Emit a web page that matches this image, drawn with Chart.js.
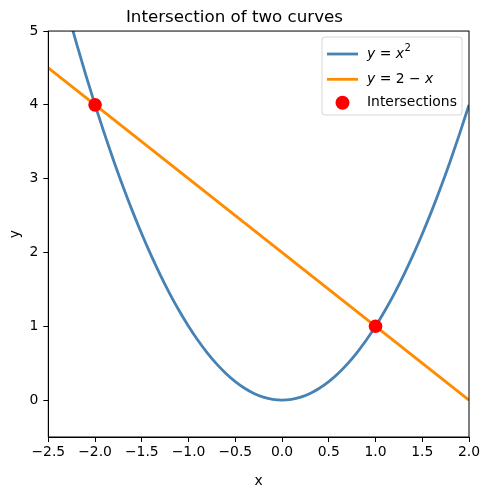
<!DOCTYPE html>
<html>
<head>
<meta charset="utf-8">
<script src="https://cdn.jsdelivr.net/npm/chart.js@4.4.1/dist/chart.umd.min.js"></script>
<style>
html,body{margin:0;padding:0;background:#fff;}
#wrap{width:490px;height:490px;position:relative;}
</style>
</head>
<body>
<div id="wrap"><canvas id="c" width="490" height="490"></canvas></div>
<script>
// ---- data ----
const curveX = [-2.5,-2.4,-2.3,-2.2,-2.1,-2.0,-1.9,-1.8,-1.7,-1.6,-1.5,-1.4,-1.3,-1.2,-1.1,-1.0,-0.9,-0.8,-0.7,-0.6,-0.5,-0.4,-0.3,-0.2,-0.1,0.0,0.1,0.2,0.3,0.4,0.5,0.6,0.7,0.8,0.9,1.0,1.1,1.2,1.3,1.4,1.5,1.6,1.7,1.8,1.9,2.0];
const curveY = [6.25,5.76,5.29,4.84,4.41,4.00,3.61,3.24,2.89,2.56,2.25,1.96,1.69,1.44,1.21,1.00,0.81,0.64,0.49,0.36,0.25,0.16,0.09,0.04,0.01,0.00,0.01,0.04,0.09,0.16,0.25,0.36,0.49,0.64,0.81,1.00,1.21,1.44,1.69,1.96,2.25,2.56,2.89,3.24,3.61,4.00];
const lineX = [-2.5, 2.0];
const lineY = [4.5, 0.0];
const interX = [-2, 1];
const interY = [4, 1];
const xTicks = [-2.5,-2.0,-1.5,-1.0,-0.5,0.0,0.5,1.0,1.5,2.0];
const xTickLabels = ["\u22122.5","\u22122.0","\u22121.5","\u22121.0","\u22120.5","0.0","0.5","1.0","1.5","2.0"];
const yTicks = [0,1,2,3,4,5];
const yTickLabels = ["0","1","2","3","4","5"];
const titleText = "Intersection of two curves";
const xTitle = "x";
const yTitle = "y";
const legendLabels = ["y = x2", "y = 2 \u2212 x", "Intersections"];

const FONT = "'DejaVu Sans', sans-serif";
const BLUE = "#4682B4", ORANGE = "#FF8C00", RED = "#FF0000";

const toPts = (xs, ys) => xs.map((x, i) => ({x: x, y: ys[i]}));

const framePlugin = {
  id: 'frame',
  afterDatasetsDraw(chart) {
    const a = chart.chartArea, ctx = chart.ctx;
    ctx.save();
    ctx.strokeStyle = '#000';
    ctx.lineWidth = 1;
    ctx.strokeRect(a.left, a.top, a.right - a.left, a.bottom - a.top);
    ctx.restore();
  }
};

const legendPlugin = {
  id: 'mplLegend',
  afterDraw(chart) {
    const ctx = chart.ctx;
    ctx.save();
    const bx = 322, by = 37, bw = 140, bh = 78, r = 3;
    ctx.beginPath();
    ctx.moveTo(bx + r, by);
    ctx.lineTo(bx + bw - r, by); ctx.arcTo(bx + bw, by, bx + bw, by + r, r);
    ctx.lineTo(bx + bw, by + bh - r); ctx.arcTo(bx + bw, by + bh, bx + bw - r, by + bh, r);
    ctx.lineTo(bx + r, by + bh); ctx.arcTo(bx, by + bh, bx, by + bh - r, r);
    ctx.lineTo(bx, by + r); ctx.arcTo(bx, by, bx + r, by, r);
    ctx.closePath();
    ctx.fillStyle = 'rgba(255,255,255,0.8)';
    ctx.fill();
    ctx.strokeStyle = 'rgba(204,204,204,0.8)';
    ctx.lineWidth = 1;
    ctx.stroke();

    const rows = [54, 79.3, 102.7];
    const lx0 = 327, lx1 = 358, tx = 367;
    ctx.lineWidth = 2.8;
    ctx.strokeStyle = BLUE;
    ctx.beginPath(); ctx.moveTo(lx0, rows[0]); ctx.lineTo(lx1, rows[0]); ctx.stroke();
    ctx.strokeStyle = ORANGE;
    ctx.beginPath(); ctx.moveTo(lx0, rows[1]); ctx.lineTo(lx1, rows[1]); ctx.stroke();
    ctx.fillStyle = RED;
    ctx.beginPath(); ctx.arc(342.5, rows[2], 7, 0, Math.PI * 2); ctx.fill();

    ctx.fillStyle = '#000';
    ctx.textBaseline = 'middle';
    ctx.textAlign = 'left';
    const fs = 13.9;
    const it = 'italic ' + fs + 'px ' + FONT;
    const rm = fs + 'px ' + FONT;
    let x = tx;
    let currentRow = 0;
    const seg = (txt, font, dy) => { ctx.font = font; ctx.fillText(txt, x, rows[currentRow] + (dy || 0)); x += ctx.measureText(txt).width; };
    seg('y', it); seg(' = ', rm); seg('x', it); x += 0.5; seg('2', (fs * 0.72) + 'px ' + FONT, -5.5);
    currentRow = 1; x = tx;
    seg('y', it); seg(' = 2 \u2212 ', rm); seg('x', it);
    currentRow = 2; x = tx;
    seg(legendLabels[2], rm);
    ctx.restore();
  }
};

new Chart(document.getElementById('c'), {
  type: 'scatter',
  data: {
    datasets: [
      { label: legendLabels[0], data: toPts(curveX, curveY), showLine: true, borderColor: BLUE, borderWidth: 2.8, pointRadius: 0, cubicInterpolationMode: 'monotone', order: 3 },
      { label: legendLabels[1], data: toPts(lineX, lineY), showLine: true, borderColor: ORANGE, borderWidth: 2.8, pointRadius: 0, order: 2 },
      { label: legendLabels[2], data: toPts(interX, interY), showLine: false, backgroundColor: RED, borderWidth: 0, pointRadius: 6.8, pointHoverRadius: 6.8, order: 1 }
    ]
  },
  options: {
    responsive: false,
    animation: false,
    devicePixelRatio: 1,
    layout: { padding: { left: 0, right: 21, top: 0, bottom: 0 } },
    plugins: {
      legend: { display: false },
      tooltip: { enabled: false },
      title: {
        display: true, text: titleText, color: '#000',
        font: { family: FONT, size: 16.7, weight: 'normal' },
        padding: { top: 7.5, bottom: 3.5 }
      }
    },
    scales: {
      x: {
        type: 'linear', min: -2.5, max: 2.0,
        afterBuildTicks: (s) => { s.ticks = xTicks.map(v => ({ value: v })); },
        afterFit: (s) => { s.height = 53; },
        ticks: {
          color: '#000', font: { family: FONT, size: 13.9 }, padding: 2, maxRotation: 0, autoSkip: false,
          callback: (v) => { const i = xTicks.findIndex(t => Math.abs(t - v) < 1e-9); return i >= 0 ? xTickLabels[i] : ''; }
        },
        grid: { drawOnChartArea: false, drawTicks: true, tickLength: 5, color: '#000', lineWidth: 1 },
        border: { display: true, color: '#000', width: 1 },
        title: { display: true, text: xTitle, color: '#000', font: { family: FONT, size: 13.9 }, padding: { top: 0, bottom: 0 } }
      },
      y: {
        type: 'linear', min: -0.5, max: 5,
        afterBuildTicks: (s) => { s.ticks = yTicks.map(v => ({ value: v })); },
        afterFit: (s) => { s.width = 48.3; },
        ticks: {
          color: '#000', font: { family: FONT, size: 13.9 }, padding: 5, autoSkip: false,
          callback: (v) => { const i = yTicks.findIndex(t => Math.abs(t - v) < 1e-9); return i >= 0 ? yTickLabels[i] : ''; }
        },
        grid: { drawOnChartArea: false, drawTicks: true, tickLength: 5, color: '#000', lineWidth: 1 },
        border: { display: true, color: '#000', width: 1 },
        title: { display: true, text: yTitle, color: '#000', font: { family: FONT, size: 13.9 }, padding: { top: 7, bottom: 0 } }
      }
    }
  },
  plugins: [framePlugin, legendPlugin]
});
</script>
</body>
</html>
